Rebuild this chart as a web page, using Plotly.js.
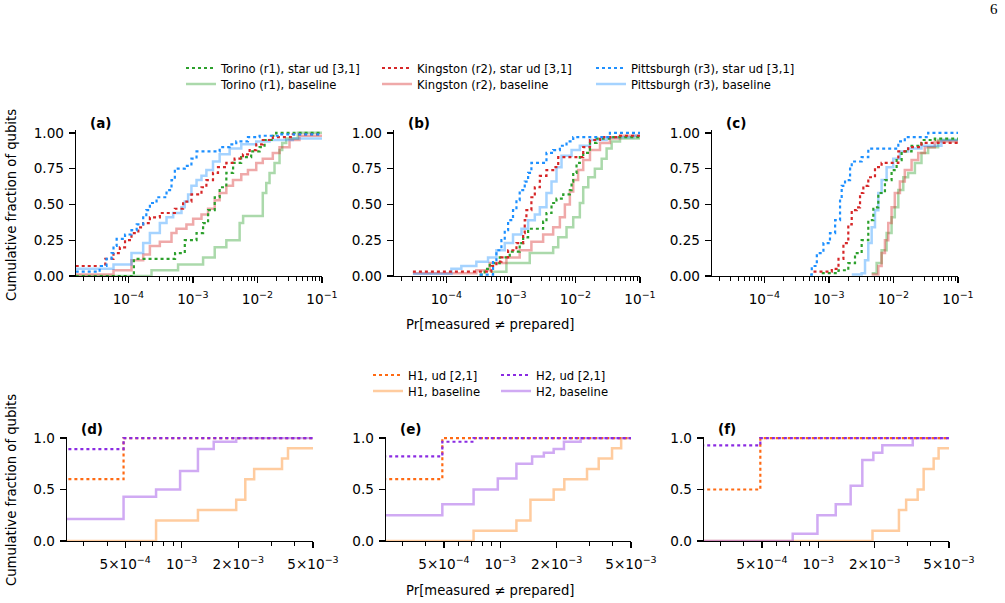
<!DOCTYPE html>
<html>
<head>
<meta charset="utf-8">
<script src="https://cdn.plot.ly/plotly-3.0.1.min.js"></script>
<style>
  html, body { margin: 0; padding: 0; background: #ffffff; }
  #chart { width: 1005px; height: 603px; }
</style>
</head>
<body>
<div id="chart"></div>
<script>
// ---------------------------------------------------------------------------
// Cumulative distributions of per-qubit readout error, Pr[measured != prepared].
// Each series: x = error-rate at which the staircase steps, y = fraction of
// qubits at or below that rate (level reached after the step).
// Values far below the axis floor stand for qubits with no recorded error.
// ---------------------------------------------------------------------------

// ---- panel (a) ----
const a_torinoStar_x = [1e-5, 1.22e-4, 5.3e-4, 7.5e-4, 1.14e-3, 1.44e-3, 1.72e-3, 2.18e-3, 2.6e-3, 3.3e-3, 4.2e-3, 5.6e-3, 8.0e-3, 1.08e-2, 1.29e-2, 1.73e-2, 1.95e-2, 1];
const a_torinoStar_y = [0, 0.12, 0.16, 0.25, 0.30, 0.37, 0.46, 0.55, 0.62, 0.72, 0.79, 0.83, 0.87, 0.90, 0.95, 0.98, 1.0, 1.0];
const a_torinoBase_x = [1e-5, 2.29e-4, 5.9e-4, 1.44e-3, 2.18e-3, 3.3e-3, 5.3e-3, 6.0e-3, 1.21e-2, 1.37e-2, 1.54e-2, 1.84e-2, 2.2e-2, 2.42e-2, 2.79e-2, 4.22e-2, 1];
const a_torinoBase_y = [0, 0.04, 0.08, 0.13, 0.20, 0.25, 0.37, 0.42, 0.58, 0.65, 0.72, 0.79, 0.88, 0.93, 0.96, 1.0, 1.0];
const a_kingstonStar_x = [1e-5, 4.4e-5, 5.9e-5, 7.4e-5, 8.9e-5, 1.12e-4, 1.43e-4, 1.70e-4, 2.16e-4, 3.08e-4, 5.26e-4, 7.06e-4, 9.5e-4, 1.36e-3, 1.62e-3, 2.05e-3, 2.45e-3, 3.3e-3, 4.43e-3, 5.97e-3, 7.57e-3, 9.58e-3, 1.21e-2, 1.73e-2, 3.53e-2, 1];
const a_kingstonStar_y = [0.07, 0.12, 0.16, 0.20, 0.25, 0.30, 0.34, 0.37, 0.41, 0.44, 0.47, 0.52, 0.57, 0.62, 0.67, 0.72, 0.76, 0.79, 0.82, 0.85, 0.88, 0.92, 0.95, 0.97, 0.99, 0.99];
const a_kingstonBase_x = [1e-5, 5.9e-5, 1.12e-4, 1.70e-4, 2.16e-4, 3.08e-4, 4.67e-4, 5.57e-4, 7.95e-4, 1.01e-3, 1.36e-3, 1.72e-3, 2.18e-3, 2.6e-3, 3.3e-3, 4.18e-3, 5.62e-3, 7.13e-3, 9.58e-3, 1.21e-2, 1.73e-2, 2.2e-2, 3.14e-2, 4.48e-2, 1];
const a_kingstonBase_y = [0.01, 0.04, 0.11, 0.15, 0.21, 0.24, 0.30, 0.33, 0.36, 0.40, 0.43, 0.47, 0.53, 0.58, 0.63, 0.67, 0.71, 0.74, 0.79, 0.82, 0.86, 0.90, 0.95, 0.98, 0.99];
const a_pittsStar_x = [1e-5, 3.6e-5, 4.6e-5, 5.5e-5, 5.9e-5, 6.6e-5, 8.9e-5, 1.12e-4, 1.35e-4, 1.70e-4, 1.90e-4, 2.16e-4, 2.74e-4, 3.91e-4, 4.67e-4, 5.26e-4, 7.49e-4, 9.5e-4, 1.14e-3, 2.6e-3, 3.71e-3, 4.7e-3, 7.13e-3, 1.08e-2, 2.2e-2, 1];
const a_pittsStar_y = [0.03, 0.07, 0.12, 0.16, 0.21, 0.26, 0.29, 0.32, 0.36, 0.41, 0.46, 0.51, 0.55, 0.60, 0.67, 0.75, 0.77, 0.82, 0.87, 0.90, 0.92, 0.94, 0.97, 0.98, 0.99, 0.99];
const a_pittsBase_x = [1e-5, 5.9e-5, 1.12e-4, 1.70e-4, 2.16e-4, 3.08e-4, 3.91e-4, 4.95e-4, 6.66e-4, 7.49e-4, 8.44e-4, 9.5e-4, 1.14e-3, 1.36e-3, 1.62e-3, 2.05e-3, 2.6e-3, 3.71e-3, 5.62e-3, 9.58e-3, 1.54e-2, 3.53e-2, 1];
const a_pittsBase_y = [0.05, 0.08, 0.16, 0.23, 0.30, 0.37, 0.41, 0.44, 0.48, 0.52, 0.57, 0.63, 0.67, 0.70, 0.74, 0.80, 0.85, 0.89, 0.92, 0.94, 0.95, 0.96, 0.97];

// ---- panel (b) ----
const b_torinoStar_x = [3.29e-4, 3.93e-4, 4.71e-4, 6.73e-4, 9.61e-4, 1.37e-3, 1.55e-3, 1.85e-3, 3.16e-3, 3.56e-3, 4.26e-3, 5.09e-3, 6.47e-3, 8.2e-3, 8.71e-3, 9.24e-3, 1.04e-2, 1.17e-2, 1.32e-2, 1.68e-2, 2.13e-2, 3.86e-2, 1];
const b_torinoStar_y = [0.01, 0.05, 0.09, 0.13, 0.17, 0.23, 0.27, 0.33, 0.38, 0.44, 0.51, 0.54, 0.57, 0.60, 0.66, 0.72, 0.79, 0.83, 0.86, 0.93, 0.96, 0.97, 0.97];
const b_torinoBase_x = [4.71e-4, 8.53e-4, 1.96e-3, 4.52e-3, 5.41e-3, 7.28e-3, 9.24e-3, 1.17e-2, 1.32e-2, 1.58e-2, 2.0e-2, 2.55e-2, 3.04e-2, 3.64e-2, 4.9e-2, 1];
const b_torinoBase_y = [0.03, 0.09, 0.16, 0.20, 0.27, 0.34, 0.41, 0.51, 0.62, 0.69, 0.75, 0.82, 0.89, 0.94, 0.96, 0.96];
const b_kingstonStar_x = [3.04e-5, 4.99e-4, 5.97e-4, 7.14e-4, 9.06e-4, 1.22e-3, 1.55e-3, 1.64e-3, 1.74e-3, 2.08e-3, 2.35e-3, 2.81e-3, 3.56e-3, 4.52e-3, 5.41e-3, 1.32e-2, 1.68e-2, 2.4e-2, 4.9e-2, 1];
const b_kingstonStar_y = [0.03, 0.07, 0.10, 0.13, 0.18, 0.23, 0.30, 0.39, 0.46, 0.55, 0.62, 0.70, 0.74, 0.76, 0.83, 0.90, 0.95, 0.97, 0.98, 0.98];
const b_kingstonBase_x = [3.04e-5, 2.92e-4, 4.71e-4, 8.53e-4, 1.37e-3, 2.08e-3, 3.16e-3, 4.52e-3, 5.74e-3, 6.86e-3, 8.2e-3, 9.24e-3, 1.1e-2, 1.32e-2, 1.68e-2, 2.4e-2, 3.42e-2, 4.9e-2, 1];
const b_kingstonBase_y = [0.02, 0.04, 0.09, 0.13, 0.18, 0.24, 0.29, 0.34, 0.41, 0.50, 0.59, 0.67, 0.74, 0.81, 0.88, 0.93, 0.96, 0.98, 0.98];
const b_pittsStar_x = [3.29e-4, 5.30e-4, 5.97e-4, 7.14e-4, 8.04e-4, 9.06e-4, 1.08e-3, 1.22e-3, 1.37e-3, 1.64e-3, 1.85e-3, 2.08e-3, 3.56e-3, 4.52e-3, 5.74e-3, 7.28e-3, 9.24e-3, 3.42e-2, 1];
const b_pittsStar_y = [0.01, 0.11, 0.18, 0.25, 0.32, 0.39, 0.46, 0.53, 0.60, 0.66, 0.72, 0.79, 0.86, 0.88, 0.91, 0.94, 0.97, 1.0, 1.0];
const b_pittsBase_x = [3.04e-5, 1.2e-4, 1.71e-4, 2.92e-4, 4.43e-4, 5.97e-4, 8.04e-4, 1.08e-3, 1.46e-3, 1.85e-3, 2.35e-3, 2.81e-3, 3.56e-3, 4.26e-3, 5.09e-3, 6.09e-3, 8.71e-3, 1.17e-2, 1.68e-2, 3.04e-2, 7.89e-2, 1];
const b_pittsBase_y = [0.015, 0.05, 0.07, 0.10, 0.13, 0.18, 0.23, 0.29, 0.33, 0.39, 0.43, 0.48, 0.58, 0.66, 0.76, 0.84, 0.88, 0.91, 0.95, 0.97, 0.98, 0.98];

// ---- panel (c) ----
const c_torinoStar_x = [7.76e-4, 1.41e-3, 2.0e-3, 2.54e-3, 3.22e-3, 4.08e-3, 4.88e-3, 5.83e-3, 7.39e-3, 9.36e-3, 1.12e-2, 1.34e-2, 1.91e-2, 2.72e-2, 4.37e-2, 1];
const c_torinoStar_y = [0.02, 0.04, 0.09, 0.16, 0.25, 0.39, 0.48, 0.58, 0.67, 0.74, 0.81, 0.87, 0.91, 0.95, 0.96, 0.96];
const c_torinoBase_x = [4.6e-3, 5.49e-3, 6.56e-3, 7.84e-3, 9.36e-3, 1.05e-2, 1.19e-2, 1.42e-2, 1.69e-2, 2.15e-2, 2.72e-2, 3.45e-2, 4.92e-2, 1];
const c_torinoBase_y = [0.02, 0.09, 0.18, 0.30, 0.41, 0.48, 0.60, 0.69, 0.72, 0.79, 0.86, 0.90, 0.95, 0.95];
const c_kingstonStar_x = [5.78e-4, 1.11e-3, 1.41e-3, 1.68e-3, 2.0e-3, 2.26e-3, 2.7e-3, 3.04e-3, 3.42e-3, 4.08e-3, 5.18e-3, 6.56e-3, 1.19e-2, 1.69e-2, 2.72e-2, 1];
const c_kingstonStar_y = [0.03, 0.05, 0.12, 0.23, 0.36, 0.46, 0.48, 0.58, 0.63, 0.69, 0.76, 0.79, 0.87, 0.90, 0.93, 0.93];
const c_kingstonBase_x = [4.6e-3, 5.83e-3, 6.56e-3, 7.39e-3, 8.31e-3, 9.36e-3, 1.05e-2, 1.26e-2, 1.5e-2, 1.91e-2, 2.42e-2, 3.06e-2, 4.37e-2, 1];
const c_kingstonBase_y = [0.01, 0.07, 0.16, 0.25, 0.37, 0.48, 0.58, 0.66, 0.74, 0.81, 0.86, 0.90, 0.94, 0.94];
const c_pittsStar_x = [5.13e-4, 5.44e-4, 6.51e-4, 8.24e-4, 1.04e-3, 1.25e-3, 1.49e-3, 1.58e-3, 1.78e-3, 2.13e-3, 2.26e-3, 3.22e-3, 4.08e-3, 1.19e-2, 1.5e-2, 3.45e-2, 1];
const c_pittsStar_y = [0.01, 0.07, 0.16, 0.23, 0.30, 0.39, 0.54, 0.63, 0.67, 0.75, 0.80, 0.83, 0.89, 0.94, 0.97, 1.0, 1.0];
const c_pittsBase_x = [2.26e-3, 3.22e-3, 3.63e-3, 4.08e-3, 4.6e-3, 5.18e-3, 5.83e-3, 6.56e-3, 7.84e-3, 9.93e-3, 1.26e-2, 1.69e-2, 2.72e-2, 5.54e-2, 1];
const c_pittsBase_y = [0.01, 0.02, 0.11, 0.23, 0.34, 0.46, 0.58, 0.67, 0.76, 0.82, 0.87, 0.89, 0.91, 0.95, 0.95];

// ---- panel (d) ----
const d_h1Ud_x = [1e-6, 4.9e-4, 1];
const d_h1Ud_y = [0.6, 1.0, 1.0];
const d_h1Base_x = [1e-6, 7.3e-4, 1.22e-3, 1.95e-3, 2.18e-3, 2.43e-3, 3.42e-3, 3.68e-3, 1];
const d_h1Base_y = [0, 0.2, 0.3, 0.4, 0.6, 0.7, 0.8, 0.9, 0.9];
const d_h2Ud_x = [1e-6, 4.9e-4, 1];
const d_h2Ud_y = [0.893, 1.0, 1.0];
const d_h2Base_x = [1e-6, 4.9e-4, 7.3e-4, 9.8e-4, 1.22e-3, 1.48e-3, 1.95e-3, 1];
const d_h2Base_y = [0.214, 0.429, 0.5, 0.679, 0.893, 0.964, 1.0, 1.0];

// ---- panel (e) ----
const e_h1Ud_x = [1e-6, 4.9e-4, 1];
const e_h1Ud_y = [0.6, 1.0, 1.0];
const e_h1Base_x = [1e-6, 7.2e-4, 1.22e-3, 1.45e-3, 1.93e-3, 2.2e-3, 2.91e-3, 3.36e-3, 3.96e-3, 4.43e-3, 1];
const e_h1Base_y = [0, 0.1, 0.2, 0.4, 0.5, 0.6, 0.7, 0.8, 0.9, 1.0, 1.0];
const e_h2Ud_x = [1e-6, 4.9e-4, 7.2e-4, 1];
const e_h2Ud_y = [0.821, 0.964, 1.0, 1.0];
const e_h2Base_x = [1e-6, 4.9e-4, 7.2e-4, 9.7e-4, 1.22e-3, 1.48e-3, 1.71e-3, 1.93e-3, 2.19e-3, 2.69e-3, 1];
const e_h2Base_y = [0.25, 0.357, 0.5, 0.607, 0.75, 0.821, 0.857, 0.893, 0.964, 1.0, 1.0];

// ---- panel (f) ----
const f_h1Ud_x = [1e-6, 4.9e-4, 1];
const f_h1Ud_y = [0.5, 1.0, 1.0];
const f_h1Base_x = [1e-6, 1.95e-3, 2.7e-3, 2.95e-3, 3.4e-3, 3.66e-3, 4.14e-3, 4.4e-3, 1];
const f_h1Base_y = [0, 0.1, 0.3, 0.4, 0.5, 0.7, 0.8, 0.9, 0.9];
const f_h2Ud_x = [1e-6, 4.9e-4, 1];
const f_h2Ud_y = [0.929, 1.0, 1.0];
const f_h2Base_x = [1e-6, 7.3e-4, 9.9e-4, 1.24e-3, 1.49e-3, 1.72e-3, 1.97e-3, 2.2e-3, 3.2e-3, 1];
const f_h2Base_y = [0, 0.071, 0.25, 0.357, 0.536, 0.786, 0.857, 0.929, 1.0, 1.0];

// ---- labels ----
const panelLabels = ['(a)', '(b)', '(c)', '(d)', '(e)', '(f)'];
const topTickVals = [1e-4, 1e-3, 1e-2, 1e-1];
const topTickText = ['10<sup>\u22124</sup>', '10<sup>\u22123</sup>', '10<sup>\u22122</sup>', '10<sup>\u22121</sup>'];
const botTickVals = [5e-4, 1e-3, 2e-3, 5e-3];
const botTickText = ['5\u00d710<sup>\u22124</sup>', '10<sup>\u22123</sup>', '2\u00d710<sup>\u22123</sup>', '5\u00d710<sup>\u22123</sup>'];
const xTitle = 'Pr[measured \u2260 prepared]';
const yTitle = 'Cumulative fraction of qubits';
const pageNumber = '6';

// ---------------------------------------------------------------------------
const W = 1005, H = 603;
const FONT = 'DejaVu Sans, Verdana, sans-serif';
const px = v => v / W;
const py = v => 1 - v / H;

const STYLE = {
  torinoStar:   { name: 'Torino (r1), star ud [3,1]',     color: '#2ca02c', dotted: true },
  torinoBase:   { name: 'Torino (r1), baseline',          color: 'rgba(44,160,44,0.4)' },
  kingstonStar: { name: 'Kingston (r2), star ud [3,1]',   color: '#d62728', dotted: true },
  kingstonBase: { name: 'Kingston (r2), baseline',        color: 'rgba(214,39,40,0.4)' },
  pittsStar:    { name: 'Pittsburgh (r3), star ud [3,1]', color: '#1e90ff', dotted: true },
  pittsBase:    { name: 'Pittsburgh (r3), baseline',      color: 'rgba(30,144,255,0.4)' },
  h1Ud:         { name: 'H1, ud [2,1]',                   color: '#ff6a13', dotted: true },
  h1Base:       { name: 'H1, baseline',                   color: 'rgba(255,127,14,0.4)' },
  h2Ud:         { name: 'H2, ud [2,1]',                   color: '#8a2be2', dotted: true },
  h2Base:       { name: 'H2, baseline',                   color: 'rgba(138,43,226,0.4)' }
};

// legend slot per series (each legend holds one entry)
const LEGEND_SLOT = {
  torinoStar: 'legend',  torinoBase: 'legend2',
  kingstonStar: 'legend3', kingstonBase: 'legend4',
  pittsStar: 'legend5', pittsBase: 'legend6',
  h1Ud: 'legend7', h1Base: 'legend8', h2Ud: 'legend9', h2Base: 'legend10'
};

const topKeys = ['torinoBase', 'kingstonBase', 'pittsBase', 'torinoStar', 'kingstonStar', 'pittsStar'];
const botKeys = ['h1Base', 'h2Base', 'h1Ud', 'h2Ud'];

const SERIES = {
  a: { torinoStar: [a_torinoStar_x, a_torinoStar_y], torinoBase: [a_torinoBase_x, a_torinoBase_y],
       kingstonStar: [a_kingstonStar_x, a_kingstonStar_y], kingstonBase: [a_kingstonBase_x, a_kingstonBase_y],
       pittsStar: [a_pittsStar_x, a_pittsStar_y], pittsBase: [a_pittsBase_x, a_pittsBase_y] },
  b: { torinoStar: [b_torinoStar_x, b_torinoStar_y], torinoBase: [b_torinoBase_x, b_torinoBase_y],
       kingstonStar: [b_kingstonStar_x, b_kingstonStar_y], kingstonBase: [b_kingstonBase_x, b_kingstonBase_y],
       pittsStar: [b_pittsStar_x, b_pittsStar_y], pittsBase: [b_pittsBase_x, b_pittsBase_y] },
  c: { torinoStar: [c_torinoStar_x, c_torinoStar_y], torinoBase: [c_torinoBase_x, c_torinoBase_y],
       kingstonStar: [c_kingstonStar_x, c_kingstonStar_y], kingstonBase: [c_kingstonBase_x, c_kingstonBase_y],
       pittsStar: [c_pittsStar_x, c_pittsStar_y], pittsBase: [c_pittsBase_x, c_pittsBase_y] },
  d: { h1Ud: [d_h1Ud_x, d_h1Ud_y], h1Base: [d_h1Base_x, d_h1Base_y], h2Ud: [d_h2Ud_x, d_h2Ud_y], h2Base: [d_h2Base_x, d_h2Base_y] },
  e: { h1Ud: [e_h1Ud_x, e_h1Ud_y], h1Base: [e_h1Base_x, e_h1Base_y], h2Ud: [e_h2Ud_x, e_h2Ud_y], h2Base: [e_h2Base_x, e_h2Base_y] },
  f: { h1Ud: [f_h1Ud_x, f_h1Ud_y], h1Base: [f_h1Base_x, f_h1Base_y], h2Ud: [f_h2Ud_x, f_h2Ud_y], h2Base: [f_h2Base_x, f_h2Base_y] }
};

// panel geometry (pixels): left/right of x-axis, bottom/top of y-axis
const PANELS = [
  { id: 'a', ax: '',  x0: 76,  x1: 322, yb: 276, yt: 130, top: true },
  { id: 'b', ax: '2', x0: 394, x1: 640, yb: 276, yt: 130, top: true },
  { id: 'c', ax: '3', x0: 712, x1: 958, yb: 276, yt: 130, top: true },
  { id: 'd', ax: '4', x0: 67,  x1: 313, yb: 541, yt: 437, top: false },
  { id: 'e', ax: '5', x0: 386, x1: 631, yb: 541, yt: 437, top: false },
  { id: 'f', ax: '6', x0: 704, x1: 949, yb: 541, yt: 437, top: false }
];

function minorTicks(decades, mantissas, lo, hi, majors) {
  const out = [];
  decades.forEach(d => mantissas.forEach(m => {
    const v = m * Math.pow(10, d);
    const isMajor = majors.some(t => Math.abs(t - v) / t < 1e-6);
    if (!isMajor && v >= lo && v <= hi) out.push(v);
  }));
  return out;
}
const TOP_RANGE = [-4.81, -1];
const BOT_RANGE = [-3.611, -2.301];
const topMinor = minorTicks([-5, -4, -3, -2], [2, 3, 4, 5, 6, 7, 8, 9],
  Math.pow(10, TOP_RANGE[0]), Math.pow(10, TOP_RANGE[1]), topTickVals);
const botMinor = minorTicks([-4, -3], [2, 3, 4, 5, 6, 7, 8, 9],
  Math.pow(10, BOT_RANGE[0]), Math.pow(10, BOT_RANGE[1]), botTickVals);

const traces = [];
const layout = {
  width: W, height: H,
  margin: { l: 0, r: 0, t: 0, b: 0, pad: 0 },
  paper_bgcolor: '#ffffff', plot_bgcolor: '#ffffff',
  font: { family: FONT, size: 13, color: '#000000' },
  showlegend: true,
  annotations: [],
  hovermode: false
};

const axisCommon = {
  showline: true, linecolor: '#000000', linewidth: 1.3,
  ticks: 'outside', ticklen: 6, tickwidth: 1.3, tickcolor: '#000000',
  showgrid: false, zeroline: false, mirror: false, fixedrange: true,
  tickfont: { family: FONT, size: 13.6, color: '#000000' }
};

PANELS.forEach((p, i) => {
  const xName = 'xaxis' + p.ax, yName = 'yaxis' + p.ax;
  const xRef = 'x' + p.ax, yRef = 'y' + p.ax;
  layout[xName] = Object.assign({}, axisCommon, {
    domain: [px(p.x0), px(p.x1)], anchor: yRef, type: 'log',
    range: p.top ? TOP_RANGE : BOT_RANGE,
    tickmode: 'array',
    tickvals: p.top ? topTickVals : botTickVals,
    ticktext: p.top ? topTickText : botTickText,
    ticklabelstandoff: 4,
    minor: { tickmode: 'array', tickvals: p.top ? topMinor : botMinor,
             ticks: 'outside', ticklen: 3.5, tickwidth: 1, tickcolor: '#000000', showgrid: false }
  });
  layout[yName] = Object.assign({}, axisCommon, {
    domain: [py(p.yb), py(p.yt)], anchor: xRef,
    range: p.top ? [0, 1.02] : [0, 1.01],
    tickmode: 'array',
    tickvals: p.top ? [0, 0.25, 0.5, 0.75, 1] : [0, 0.5, 1],
    tickformat: p.top ? '.2f' : '.1f',
    ticklabelstandoff: 2
  });

  const keys = p.top ? topKeys : botKeys;
  const firstInRow = (p.id === 'a' || p.id === 'd');
  keys.forEach(k => {
    const s = STYLE[k];
    const [xs, ys] = SERIES[p.id][k];
    traces.push({
      type: 'scatter', mode: 'lines',
      x: xs, y: ys, xaxis: xRef, yaxis: yRef,
      name: s.name,
      showlegend: firstInRow,
      legend: LEGEND_SLOT[k],
      line: s.dotted
        ? { shape: 'hv', color: s.color, width: 2.2, dash: '3px,3px' }
        : { shape: 'hv', color: s.color, width: 2.5 },
      hoverinfo: 'skip'
    });
  });

  layout.annotations.push({
    text: '<b>' + panelLabels[i] + '</b>',
    xref: 'paper', yref: 'paper',
    x: px(p.x0 + 12), y: py(p.top ? 123 : 429),
    xanchor: 'left', yanchor: 'middle', showarrow: false,
    font: { family: FONT, size: 13.5, color: '#000000' }
  });
});

// shared axis titles
[[205], [490]].forEach(([cy]) => layout.annotations.push({
  text: yTitle, xref: 'paper', yref: 'paper', x: px(11), y: py(cy),
  xanchor: 'center', yanchor: 'middle', textangle: -90, showarrow: false,
  font: { family: FONT, size: 13.2, color: '#000000' }
}));
[[324], [590]].forEach(([cy]) => layout.annotations.push({
  text: xTitle, xref: 'paper', yref: 'paper', x: px(490), y: py(cy),
  xanchor: 'center', yanchor: 'middle', showarrow: false,
  font: { family: FONT, size: 13.2, color: '#000000' }
}));
layout.annotations.push({
  text: pageNumber, xref: 'paper', yref: 'paper', x: px(994), y: py(9),
  xanchor: 'center', yanchor: 'middle', showarrow: false,
  font: { family: 'Liberation Serif, DejaVu Serif, serif', size: 15, color: '#000000' }
});

// legends: one entry each, laid out in columns above each row of panels
function legendBox(xPx, yPx) {
  return {
    x: px(xPx), y: py(yPx), xref: 'paper', yref: 'paper',
    xanchor: 'left', yanchor: 'middle', orientation: 'v',
    bgcolor: 'rgba(0,0,0,0)', borderwidth: 0, itemwidth: 30,
    itemclick: false, itemdoubleclick: false, tracegroupgap: 0,
    font: { family: FONT, size: 11.6, color: '#000000' }
  };
}
const LEGEND_POS = {
  legend: [181, 68],  legend2: [181, 84],
  legend3: [377, 68], legend4: [377, 84],
  legend5: [591, 68], legend6: [591, 84],
  legend7: [368, 375], legend8: [368, 391],
  legend9: [496, 375], legend10: [496, 391]
};
Object.keys(LEGEND_POS).forEach(k => {
  layout[k] = legendBox(LEGEND_POS[k][0], LEGEND_POS[k][1]);
});

Plotly.newPlot('chart', traces, layout, { staticPlot: true, displayModeBar: false });
</script>
</body>
</html>
